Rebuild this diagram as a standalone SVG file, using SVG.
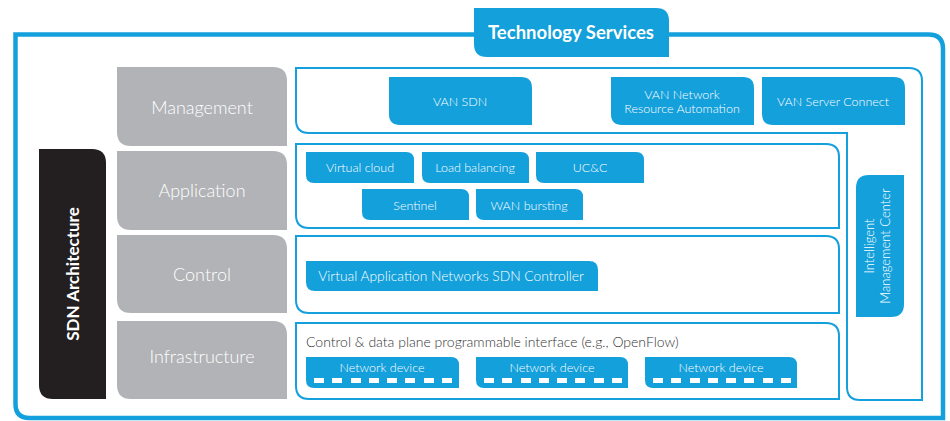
<svg xmlns="http://www.w3.org/2000/svg" width="950" height="421" viewBox="0 0 950 421">
<style>
.frame{fill:none;stroke:#14a0dc;stroke-width:4.5}
.row{fill:#fff;stroke:#14a0dc;stroke-width:2}
.blue{fill:#13a0db}
.gray{fill:#b1b3b6}
.lbl{font-family:Lato,"Liberation Sans",sans-serif;font-weight:300;fill:#fff;text-anchor:middle}
.big{font-size:18px}
.sm{font-size:12.5px}
.dash{fill:#fff}
.dark{font-family:Lato,"Liberation Sans",sans-serif;font-weight:300;fill:#333;font-size:14px}
</style>
<defs>
<g id="dashes">
<rect x="8" y="21" width="10" height="5"/><rect x="26" y="21" width="10" height="5"/><rect x="45" y="21" width="10" height="5"/><rect x="63" y="21" width="10" height="5"/><rect x="81" y="21" width="10" height="5"/><rect x="99" y="21" width="10" height="5"/><rect x="118" y="21" width="10" height="5"/><rect x="136" y="21" width="10" height="5"/>
</g>
</defs>
<g id="outer-frame">
<path class="frame" d="M474,34.5 H15.5 V404 Q15.5,418 29.5,418 H943 V49 Q943,34.5 928.5,34.5 H669"/>
</g>
<g id="technology-services">
<path class="blue" d="M474,8 H656 Q669,8 669,21 V57 H487 Q474,57 474,44 Z"/>
<text x="571" y="39" font-family="Lato,'Liberation Sans',sans-serif" font-weight="bold" font-size="18.5" fill="#fff" text-anchor="middle">Technology Services</text>
</g>
<g id="sdn-architecture">
<path fill="#231f20" d="M39,149 H92 Q106,149 106,163 V399 H53 Q39,399 39,385 Z"/>
<text transform="translate(79,274) rotate(-90)" font-family="Lato,'Liberation Sans',sans-serif" font-weight="bold" font-size="17" fill="#fff" text-anchor="middle">SDN Architecture</text>
</g>
<g id="management">
<path class="gray" d="M117,67 H273 Q287,67 287,81 V146 H131 Q117,146 117,132 Z"/>
<text class="lbl big" x="202" y="114">Management</text>
</g>
<g id="application">
<path class="gray" d="M117,151 H273 Q287,151 287,165 V230 H131 Q117,230 117,216 Z"/>
<text class="lbl big" x="202" y="197">Application</text>
</g>
<g id="control">
<path class="gray" d="M117,235 H273 Q287,235 287,249 V313 H131 Q117,313 117,299 Z"/>
<text class="lbl big" x="202" y="281">Control</text>
</g>
<g id="infrastructure">
<path class="gray" d="M117,321 H273 Q287,321 287,335 V399 H131 Q117,399 117,385 Z"/>
<text class="lbl big" x="202" y="363">Infrastructure</text>
</g>
<g id="management-row">
<path class="row" d="M296,68 H909 Q922,68 922,81 V400 H860 Q847,400 847,387 V133 H309 Q296,133 296,120 Z"/>
</g>
<g id="van-sdn">
<path class="blue" d="M389,77 H521 Q532,77 532,88 V125 H400 Q389,125 389,114 Z"/>
<text class="lbl sm" x="460" y="106">VAN SDN</text>
</g>
<g id="van-nra">
<path class="blue" d="M611,77 H743 Q754,77 754,88 V125 H622 Q611,125 611,114 Z"/>
<text class="lbl sm" x="682" y="99">VAN Network</text>
<text class="lbl sm" x="682" y="113">Resource Automation</text>
</g>
<g id="van-server-connect">
<path class="blue" d="M762,77 H894 Q905,77 905,88 V125 H773 Q762,125 762,114 Z"/>
<text class="lbl sm" x="833" y="106">VAN Server Connect</text>
</g>
<g id="application-row">
<path class="row" d="M296,144 H826 Q839,144 839,157 V228 H309 Q296,228 296,215 Z"/>
</g>
<g id="virtual-cloud">
<path class="blue" d="M306,152 H406 Q414,152 414,160 V183 H314 Q306,183 306,175 Z"/>
<text class="lbl sm" x="360" y="172">Virtual cloud</text>
</g>
<g id="load-balancing">
<path class="blue" d="M422,152 H521 Q529,152 529,160 V183 H430 Q422,183 422,175 Z"/>
<text class="lbl sm" x="475" y="172">Load balancing</text>
</g>
<g id="ucc">
<path class="blue" d="M536,152 H636 Q644,152 644,160 V183 H544 Q536,183 536,175 Z"/>
<text class="lbl sm" x="590" y="172">UC&amp;C</text>
</g>
<g id="sentinel">
<path class="blue" d="M362,189 H461 Q469,189 469,197 V220 H370 Q362,220 362,212 Z"/>
<text class="lbl sm" x="415" y="210">Sentinel</text>
</g>
<g id="wan-bursting">
<path class="blue" d="M476,189 H575 Q583,189 583,197 V220 H484 Q476,220 476,212 Z"/>
<text class="lbl sm" x="529" y="210">WAN bursting</text>
</g>
<g id="control-row">
<path class="row" d="M296,236 H826 Q839,236 839,249 V313 H309 Q296,313 296,300 Z"/>
</g>
<g id="van-sdn-controller">
<path class="blue" d="M306,261 H589 Q598,261 598,270 V291 H315 Q306,291 306,282 Z"/>
<text class="lbl" font-size="13.8" x="451" y="281">Virtual Application Networks SDN Controller</text>
</g>
<g id="infrastructure-row">
<path class="row" d="M296,323 H826 Q839,323 839,336 V399 H309 Q296,399 296,386 Z"/>
<text class="dark" x="306" y="347">Control &amp; data plane programmable interface (e.g., OpenFlow)</text>
</g>
<g id="network-device-1">
<path class="blue" d="M306,357 H451 Q459,357 459,365 V388 H314 Q306,388 306,380 Z"/>
<text class="lbl sm" x="382" y="372">Network device</text>
<use href="#dashes" x="306" y="357" class="dash"/>
</g>
<g id="network-device-2">
<path class="blue" d="M476,357 H620 Q628,357 628,365 V388 H484 Q476,388 476,380 Z"/>
<text class="lbl sm" x="552" y="372">Network device</text>
<use href="#dashes" x="476" y="357" class="dash"/>
</g>
<g id="network-device-3">
<path class="blue" d="M645,357 H789 Q797,357 797,365 V388 H653 Q645,388 645,380 Z"/>
<text class="lbl sm" x="721" y="372">Network device</text>
<use href="#dashes" x="645" y="357" class="dash"/>
</g>
<g id="intelligent-management-center">
<path class="blue" d="M869,175 H904 V304 Q904,317 891,317 H856 V188 Q856,175 869,175 Z"/>
<text class="lbl" font-size="13" transform="translate(874,246) rotate(-90)">Intelligent</text>
<text class="lbl" font-size="13" transform="translate(890,246) rotate(-90)">Management Center</text>
</g>
</svg>
